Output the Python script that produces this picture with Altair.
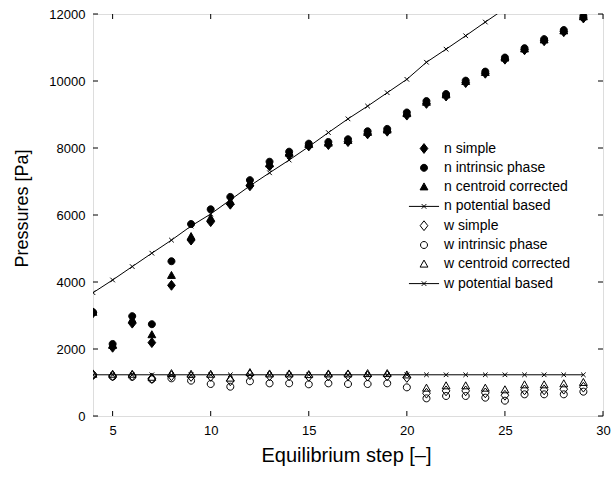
import altair as alt
import pandas as pd

F = "Liberation Sans"

steps = [4, 5, 6, 7, 8, 9, 10, 11, 12, 13, 14, 15, 16, 17, 18, 19, 20, 21, 22, 23, 24, 25, 26, 27, 28, 29]

n_simple = [3080, 2050, 2770, 2190, 3900, 5250, 5800, 6320, 6870, 7460, 7790, 8060, 8100, 8190, 8420, 8500,
            8980, 9330, 9550, 9950, 10230, 10650, 10930, 11200, 11470, 11880]
n_intrinsic = [3100, 2150, 2980, 2740, 4620, 5730, 6170, 6540, 7040, 7590, 7890, 8130, 8180, 8260, 8500, 8570,
               9060, 9400, 9610, 10010, 10280, 10700, 10980, 11250, 11520, 11940]
n_centroid = [3090, 2100, 2870, 2420, 4190, 5350, 5900, 6400, 6950, 7520, 7840, 8100, 8140, 8220, 8460, 8530,
              9020, 9360, 9580, 9980, 10250, 10680, 10950, 11220, 11490, 11910]
n_pot_steps = [4, 5, 6, 7, 8, 9, 10, 11, 12, 13, 14, 15, 16, 17, 18, 19, 20, 21, 22, 23, 24, 25]
n_potential = [3680, 4060, 4460, 4860, 5250, 5670, 6030, 6450, 6870, 7260, 7640, 8040, 8460, 8870, 9250, 9650,
               10050, 10560, 10950, 11350, 11760, 12160]

w_simple = [1230, 1200, 1200, 1120, 1200, 1180, 1180, 1050, 1230, 1200, 1200, 1180, 1200, 1210, 1190, 1200,
            1150, 680, 750, 750, 690, 620, 780, 780, 800, 860]
w_intrinsic = [1220, 1175, 1170, 1095, 1125, 1055, 955, 875, 1035, 975, 975, 945, 975, 955, 955, 975,
               855, 527, 597, 597, 547, 457, 647, 647, 647, 726]
w_centroid = [1240, 1240, 1240, 1150, 1260, 1240, 1240, 1125, 1290, 1250, 1250, 1230, 1250, 1250, 1260, 1260,
              1220, 825, 895, 895, 825, 776, 925, 925, 955, 995]
w_potential = [1230, 1230, 1230, 1230, 1230, 1230, 1230, 1230, 1230, 1230, 1230, 1230, 1230, 1230, 1230, 1230,
               1230, 1230, 1230, 1230, 1230, 1230, 1230, 1230, 1230, 1230]

series = ["n simple", "n intrinsic phase", "n centroid corrected", "n potential based",
          "w simple", "w intrinsic phase", "w centroid corrected", "w potential based"]

x_ticks = [5, 10, 15, 20, 25, 30]
y_ticks = [0, 2000, 4000, 6000, 8000, 10000, 12000]

DIAMOND = "M0,-0.7L0.55,0L0,0.7L-0.55,0Z"
CIRCLE = "M-0.5,0A0.5,0.5,0,1,0,0.5,0A0.5,0.5,0,1,0,-0.5,0Z"
TRI = "M0,-0.6L0.56,0.4L-0.56,0.4Z"
LINEX = "M-2.15,0L2.15,0M-0.33,-0.33L0.33,0.33M-0.33,0.33L0.33,-0.33"
XMARK = "M-0.33,-0.33L0.33,0.33M-0.33,0.33L0.33,-0.33"

shapes = [DIAMOND, CIRCLE, TRI, LINEX, DIAMOND, CIRCLE, TRI, LINEX]
fills = ["black", "black", "black", "transparent", "transparent", "transparent", "transparent", "transparent"]
strokes = ["black", "black", "black", "black", "black", "black", "black", "black"]

rows = []
for name, vals in [("w simple", w_simple), ("w intrinsic phase", w_intrinsic), ("w centroid corrected", w_centroid),
                   ("n simple", n_simple), ("n intrinsic phase", n_intrinsic), ("n centroid corrected", n_centroid)]:
    for s, v in zip(steps, vals):
        rows.append({"step": s, "value": v, "series": name})
df_pts = pd.DataFrame(rows)

lrows = []
for s, v in zip(n_pot_steps, n_potential):
    lrows.append({"step": s, "value": v, "series": "n potential based"})
for s, v in zip(steps, w_potential):
    lrows.append({"step": s, "value": v, "series": "w potential based"})
df_lines = pd.DataFrame(lrows)

W, H = 510, 402
xscale = alt.Scale(domain=[4, 30], nice=False, zero=False)
yscale = alt.Scale(domain=[0, 12000], nice=False)

xaxis = alt.Axis(values=x_ticks, title="Equilibrium step [–]", ticks=False, tickSize=0, domain=False, grid=False,
                 labelPadding=8, labelFontSize=13, labelFont=F, labelColor="black", labelFlush=False,
                 format="d",
                 titleFont=F, titleFontSize=20, titleFontWeight="normal", titleColor="black",
                 titleX=253, titleY=39, titleBaseline="middle")
yaxis = alt.Axis(values=y_ticks, title="Pressures [Pa]", ticks=False, tickSize=0, domain=False, grid=False,
                 labelPadding=8, labelFontSize=13, labelFont=F, labelColor="black", labelFlush=False,
                 labelOverlap=False, format="d",
                 titleFont=F, titleFontSize=18, titleFontWeight="normal", titleColor="black",
                 titleX=-71, titleY=194, titleBaseline="middle")

legend = alt.Legend(title=None, orient="none", legendX=323.5, legendY=127, labelFont=F, labelFontSize=14,
                    labelColor="black", labelOffset=12.5, rowPadding=4.3, symbolSize=196,
                    symbolStrokeColor="black", symbolStrokeWidth=1, padding=0, symbolOpacity=1)

X = alt.X("step:Q", scale=xscale, axis=xaxis)
Y = alt.Y("value:Q", scale=yscale, axis=yaxis)

pts = alt.Chart(df_pts).mark_point(size=196, opacity=1, strokeWidth=1, clip=True).encode(
    x=X,
    y=Y,
    shape=alt.Shape("series:N", scale=alt.Scale(domain=series, range=shapes), legend=legend),
    fill=alt.Fill("series:N", scale=alt.Scale(domain=series, range=fills), legend=legend),
    stroke=alt.Stroke("series:N", scale=alt.Scale(domain=series, range=strokes), legend=legend),
)

lines = alt.Chart(df_lines).mark_line(color="black", strokeWidth=1, clip=True).encode(
    x=X, y=Y, detail="series:N",
)

xmarks = alt.Chart(df_lines).mark_point(shape=XMARK, size=196, color="black", strokeWidth=1, opacity=1,
                                        clip=True).encode(x=X, y=Y)

df_xt = pd.DataFrame({"step": x_ticks})
df_yt = pd.DataFrame({"value": y_ticks})

xt_bottom = alt.Chart(df_xt).mark_rule(color="black", strokeWidth=1).encode(
    x=X, y=alt.value(H), y2=alt.value(H - 5))
xt_top = alt.Chart(df_xt).mark_rule(color="black", strokeWidth=1).encode(
    x=X, y=alt.value(0), y2=alt.value(5))
yt_left = alt.Chart(df_yt).mark_rule(color="black", strokeWidth=1).encode(
    y=Y, x=alt.value(0), x2=alt.value(5))
yt_right = alt.Chart(df_yt).mark_rule(color="black", strokeWidth=1).encode(
    y=Y, x=alt.value(W), x2=alt.value(W - 5))

chart = alt.layer(pts, lines, xmarks, xt_bottom, xt_top, yt_left, yt_right).properties(
    width=W, height=H,
    padding={"left": 93, "top": 14, "right": 8, "bottom": 61},
    autosize=alt.AutoSizeParams(type="none"),
).configure_view(stroke="black", strokeWidth=1).configure(background="white")

chart.save("out.html", embed_options={"renderer": "svg", "actions": False})
